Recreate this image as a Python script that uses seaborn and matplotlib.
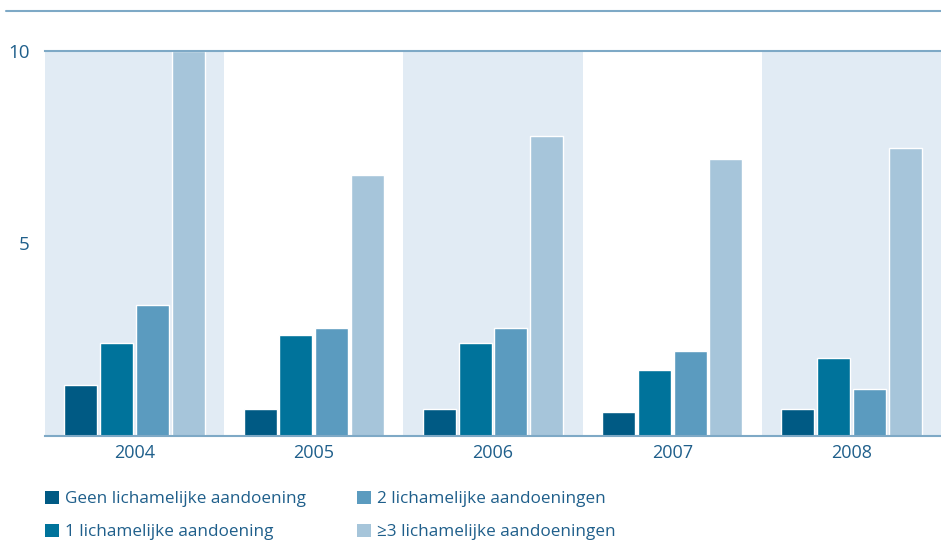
import pandas as pd
import matplotlib.pyplot as plt
import seaborn as sns
from matplotlib.patches import Patch
from matplotlib.lines import Line2D

# data
years = ['2004', '2005', '2006', '2007', '2008']
geen = [1.32, 0.70, 0.70, 0.62, 0.70]
een = [2.41, 2.62, 2.41, 1.71, 2.02]
twee = [3.39, 2.80, 2.80, 2.20, 1.22]
drie_plus = [10.0, 6.79, 7.80, 7.20, 7.49]

labels = ['Geen lichamelijke aandoening', '1 lichamelijke aandoening',
          '2 lichamelijke aandoeningen', '≥3 lichamelijke aandoeningen']
colors = ['#005a84', '#00739b', '#5b9bbf', '#a6c5da']

rows = []
for lab, vals in zip(labels, [geen, een, twee, drie_plus]):
    for y, v in zip(years, vals):
        rows.append({'jaar': y, 'groep': lab, 'waarde': v})
df = pd.DataFrame(rows)

sns.set_style("white")
plt.rcParams['font.family'] = ['Open Sans', 'DejaVu Sans']
axis_col = '#7ea9c6'
text_col = '#1f5f8b'

fig = plt.figure(figsize=(9.41, 5.41), dpi=100)
ax = fig.add_axes([45 / 941, 105 / 541, 1 - 45 / 941, 385 / 541])

# alternating background bands
for i in range(0, len(years), 2):
    ax.axvspan(i - 0.5, i + 0.5, color='#e1ebf4', zorder=0, lw=0)

sns.barplot(data=df, x='jaar', y='waarde', hue='groep', hue_order=labels,
            palette=colors, width=0.8, gap=0.08, saturation=1,
            ax=ax, legend=False, zorder=2)

ax.set_xlim(-0.5, len(years) - 0.5)
ax.set_ylim(0, 10)
ax.set_xlabel('')
ax.set_ylabel('')
ax.set_yticks([5, 10])
ax.set_yticklabels(['5', '10'])
ax.tick_params(axis='y', direction='in', length=11, width=1.2, color=axis_col,
               labelcolor=text_col, labelsize=13.5, pad=11)
ax.tick_params(axis='x', which='major', length=0, labelcolor=text_col,
               labelsize=13, pad=6)
ax.set_xticks([i - 0.5 for i in range(len(years) + 1)], minor=True)
ax.tick_params(axis='x', which='minor', direction='in', length=5, width=1.2,
               color=axis_col)

for side in ['left', 'right']:
    ax.spines[side].set_visible(False)
for side in ['top', 'bottom']:
    ax.spines[side].set_color(axis_col)
    ax.spines[side].set_linewidth(1.5)
ax.spines['top'].set_zorder(3)

# line across the very top
fig.add_artist(Line2D([6 / 941, 1], [1 - 11 / 541, 1 - 11 / 541],
                      color=axis_col, lw=1.5))

handles = [Patch(facecolor=c, edgecolor='none') for c in colors]
leg = fig.legend(handles, labels, ncol=2, loc='upper left',
                 bbox_to_anchor=(45 / 941, 1 - 491 / 541), frameon=False,
                 fontsize=12.3, handlelength=0.8, handleheight=0.8,
                 handletextpad=0.35, columnspacing=3.0, labelspacing=0.95,
                 borderpad=0, borderaxespad=0)
for t in leg.get_texts():
    t.set_color(text_col)

plt.savefig('out.png', dpi=100)
plt.close()
